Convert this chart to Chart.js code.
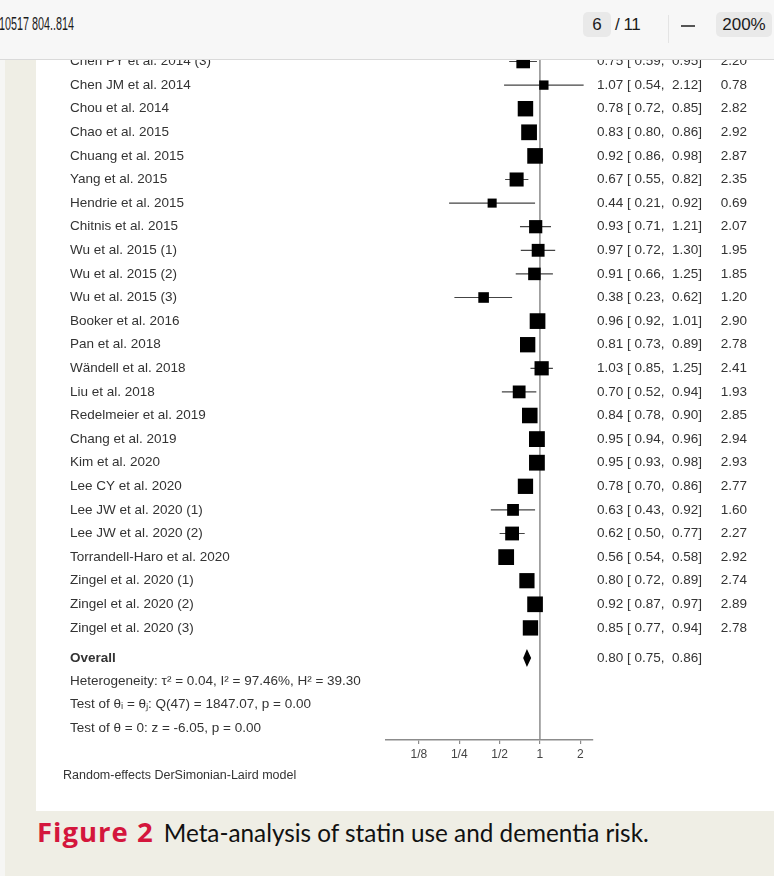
<!DOCTYPE html>
<html>
<head>
<meta charset="utf-8">
<script src="https://cdn.jsdelivr.net/npm/chart.js@4.4.1/dist/chart.umd.min.js"></script>
<style>
  html, body { margin: 0; padding: 0; }
  body { width: 774px; height: 876px; position: relative; overflow: hidden; background: #efeee5; }
  #edge { position: absolute; left: 0; top: 0; width: 5px; height: 876px; background: #f6f6f4; }
  #page { position: absolute; left: 36px; top: 60px; width: 738px; height: 751px; background: #fff; }
  #chart { position: absolute; left: 36px; top: 0; }
  #bar { position: absolute; left: 0; top: 0; width: 774px; height: 59px; background: #f7f7f7;
         border-bottom: 1px solid #dadada; z-index: 2; color: #1b1b1b;
         font-family: "Liberation Sans", sans-serif; font-size: 17px; }
  #bar div { position: absolute; }
  #doc { left: -1px; top: 14px; font-size: 18px; transform: scaleX(0.6); transform-origin: left center; }
  .box { background: #e9e9e9; border-radius: 5px; height: 25px; line-height: 25px; text-align: center; top: 12px; }
  #pg { left: 583px; width: 28px; }
  #of { left: 615px; top: 12px; line-height: 25px; letter-spacing: -0.5px; }
  #sep { left: 668px; top: 15px; width: 1px; height: 28px; background: #e4e4e4; }
  #minus { left: 681px; top: 25px; width: 14px; height: 2px; background: #555; }
  #zoom { left: 716px; width: 56px; }
  #cap { position: absolute; left: 37px; top: 813px; font-family: Lato, "Open Sans", sans-serif; font-size: 24.3px; color: #111; white-space: nowrap; }
  #cap b { color: #d4163c; font-family: "Open Sans", Lato, sans-serif; font-weight: 700; font-size: 27.5px; letter-spacing: 1px; margin-right: 10px; }
</style>
</head>
<body>
<div id="edge"></div>
<div id="page"></div>
<canvas id="chart" width="738" height="811"></canvas>
<div id="bar">
  <div id="doc">10517 804..814</div>
  <div id="pg" class="box">6</div>
  <div id="of">/ 11</div>
  <div id="sep"></div>
  <div id="minus"></div>
  <div id="zoom" class="box">200%</div>
</div>
<div id="cap"><b>Figure 2</b>Meta-analysis of statin use and dementia risk.</div>

<script>
const studies = [
    'Chen PY et al. 2014 (3)', 'Chen JM et al. 2014', 'Chou et al. 2014', 'Chao et al. 2015',
    'Chuang et al. 2015', 'Yang et al. 2015', 'Hendrie et al. 2015', 'Chitnis et al. 2015',
    'Wu et al. 2015 (1)', 'Wu et al. 2015 (2)', 'Wu et al. 2015 (3)', 'Booker et al. 2016',
    'Pan et al. 2018', 'Wändell et al. 2018', 'Liu et al. 2018', 'Redelmeier et al. 2019',
    'Chang et al. 2019', 'Kim et al. 2020', 'Lee CY et al. 2020', 'Lee JW et al. 2020 (1)',
    'Lee JW et al. 2020 (2)', 'Torrandell-Haro et al. 2020', 'Zingel et al. 2020 (1)',
    'Zingel et al. 2020 (2)', 'Zingel et al. 2020 (3)'
];
const estimates = [0.75, 1.07, 0.78, 0.83, 0.92, 0.67, 0.44, 0.93, 0.97, 0.91, 0.38, 0.96, 0.81,
    1.03, 0.70, 0.84, 0.95, 0.95, 0.78, 0.63, 0.62, 0.56, 0.80, 0.92, 0.85];
const lowerCI = [0.59, 0.54, 0.72, 0.80, 0.86, 0.55, 0.21, 0.71, 0.72, 0.66, 0.23, 0.92, 0.73,
    0.85, 0.52, 0.78, 0.94, 0.93, 0.70, 0.43, 0.50, 0.54, 0.72, 0.87, 0.77];
const upperCI = [0.95, 2.12, 0.85, 0.86, 0.98, 0.82, 0.92, 1.21, 1.30, 1.25, 0.62, 1.01, 0.89,
    1.25, 0.94, 0.90, 0.96, 0.98, 0.86, 0.92, 0.77, 0.58, 0.89, 0.97, 0.94];
const weights = [2.20, 0.78, 2.82, 2.92, 2.87, 2.35, 0.69, 2.07, 1.95, 1.85, 1.20, 2.90, 2.78,
    2.41, 1.93, 2.85, 2.94, 2.93, 2.77, 1.60, 2.27, 2.92, 2.74, 2.89, 2.78];

const overallEst = 0.80;
const overallLo = 0.75;
const overallHi = 0.86;

const statLines = [
    'Heterogeneity: τ² = 0.04, I² = 97.46%, H² = 39.30',
    'Test of θᵢ = θⱼ: Q(47) = 1847.07, p = 0.00',
    'Test of θ = 0: z = -6.05, p = 0.00'
];
const modelNote = 'Random-effects DerSimonian-Laird model';

const tickValues = [0.125, 0.25, 0.5, 1, 2];
const tickLabels = ['1/8', '1/4', '1/2', '1', '2'];

// layout (row units on the y scale)
const ROW_PX = 23.6;
const FIRST_ROW_Y = 61.5;
const AXIS_Y = 740;
const overallRow = (658 - FIRST_ROW_Y) / ROW_PX;
const statRows = [681, 704, 728].map(y => (y - FIRST_ROW_Y) / ROW_PX);

const fmt = v => v.toFixed(2);
const ciText = (e, l, h) => `${fmt(e)} [ ${fmt(l)},  ${fmt(h)}]`;

// CI segments, broken with empty points between studies
const ciPoints = [];
estimates.forEach((e, i) => {
    ciPoints.push({ x: lowerCI[i], y: i }, { x: upperCI[i], y: i }, { x: null, y: null });
});

const nullLine = {
    id: 'nullLine',
    beforeDatasetsDraw(chart) {
        const { ctx, chartArea, scales } = chart;
        const x = scales.x.getPixelForValue(1);
        ctx.save();
        ctx.strokeStyle = '#8c8c8c';
        ctx.lineWidth = 1.5;
        ctx.beginPath();
        ctx.moveTo(x, chartArea.top);
        ctx.lineTo(x, chartArea.bottom);
        ctx.stroke();
        ctx.restore();
    }
};

const overallDiamond = {
    id: 'overallDiamond',
    afterDatasetsDraw(chart) {
        const { ctx, scales } = chart;
        const yc = scales.y.getPixelForValue(overallRow);
        const h = 9;
        ctx.save();
        ctx.fillStyle = '#000';
        ctx.beginPath();
        ctx.moveTo(scales.x.getPixelForValue(overallLo), yc);
        ctx.lineTo(scales.x.getPixelForValue(overallEst), yc - h);
        ctx.lineTo(scales.x.getPixelForValue(overallHi), yc);
        ctx.lineTo(scales.x.getPixelForValue(overallEst), yc + h);
        ctx.closePath();
        ctx.fill();
        ctx.restore();
    }
};

const tableText = {
    id: 'tableText',
    afterDraw(chart) {
        const { ctx, scales, chartArea } = chart;
        const yS = scales.y;
        ctx.save();
        ctx.fillStyle = '#333';
        ctx.textBaseline = 'middle';
        ctx.font = '13.5px "Liberation Sans", Arial, sans-serif';
        studies.forEach((s, i) => {
            const y = yS.getPixelForValue(i);
            ctx.textAlign = 'left';
            ctx.fillText(s, 34, y);
            ctx.fillText(ciText(estimates[i], lowerCI[i], upperCI[i]), 561, y);
            ctx.textAlign = 'right';
            ctx.fillText(fmt(weights[i]), 711, y);
        });
        ctx.textAlign = 'left';
        const yo = yS.getPixelForValue(overallRow);
        ctx.fillText(ciText(overallEst, overallLo, overallHi), 561, yo);
        ctx.font = 'bold 13.5px "Liberation Sans", Arial, sans-serif';
        ctx.fillText('Overall', 34, yo);
        ctx.font = '13.5px "Liberation Sans", Arial, sans-serif';
        statLines.forEach((t, k) => ctx.fillText(t, 34, yS.getPixelForValue(statRows[k])));
        ctx.font = '12.5px "Liberation Sans", Arial, sans-serif';
        ctx.fillText(modelNote, 27, chartArea.bottom + 36);
        ctx.restore();
    }
};

new Chart(document.getElementById('chart'), {
    type: 'scatter',
    data: {
        datasets: [
            {
                data: ciPoints,
                order: 2,
                showLine: true,
                spanGaps: false,
                borderColor: '#444',
                borderWidth: 1.2,
                pointRadius: 0
            },
            {
                data: estimates.map((e, i) => ({ x: e, y: i })),
                order: 1,
                pointStyle: 'rect',
                pointRadius: weights.map(w => (7 + 3.0 * w) / Math.SQRT2),
                backgroundColor: '#000',
                borderWidth: 0
            }
        ]
    },
    options: {
        responsive: false,
        animation: false,
        layout: { autoPadding: false, padding: { left: 350, right: 181, top: 0, bottom: 811 - AXIS_Y - 30 } },
        plugins: { legend: { display: false }, tooltip: { enabled: false } },
        scales: {
            x: {
                type: 'logarithmic',
                min: 0.071,
                max: 2.49,
                afterBuildTicks: scale => { scale.ticks = tickValues.map(v => ({ value: v })); },
                afterFit: scale => { scale.height = 30; },
                ticks: {
                    autoSkip: false, maxRotation: 0, padding: 3,
                    color: '#444', font: { family: 'Liberation Sans', size: 12 },
                    callback: (v, i) => tickLabels[i]
                },
                grid: { drawOnChartArea: false, tickLength: 4, color: '#8c8c8c', lineWidth: 1.2 },
                border: { color: '#8c8c8c', width: 1.5 }
            },
            y: {
                type: 'linear',
                display: false,
                reverse: true,
                min: -FIRST_ROW_Y / ROW_PX,
                max: (AXIS_Y - FIRST_ROW_Y) / ROW_PX
            }
        }
    },
    plugins: [nullLine, overallDiamond, tableText]
});
</script>
</body>
</html>
